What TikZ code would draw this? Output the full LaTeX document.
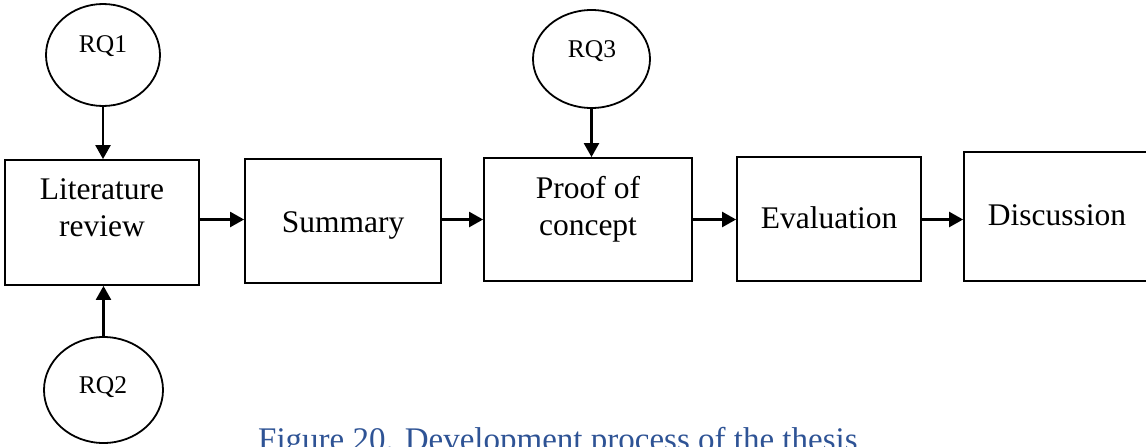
\documentclass[tikz,border=0pt]{standalone}
\usepackage{fontspec}
\setmainfont{Liberation Serif}
\usetikzlibrary{arrows.meta,shapes.geometric}
\definecolor{captionblue}{HTML}{2E5395}

\begin{document}
\begin{tikzpicture}[x=1pt,y=-1pt,
  stage/.style={draw, line width=1.8pt, rectangle, inner sep=0pt},
  rq/.style={draw, line width=1.8pt, ellipse, inner sep=0pt},
  flow/.style={line width=2.4pt, -{Triangle[length=14pt,width=15pt]}},
  big/.style={font=\fontsize{31.5}{37}\selectfont, inner sep=0pt, align=center},
  bigbase/.style={big, anchor=base},
  small/.style={font=\fontsize{25.5}{30}\selectfont, inner sep=0pt, anchor=base},
  caption/.style={font=\fontsize{33}{38}\selectfont, inner sep=0pt, anchor=base west, text=captionblue},
]
\useasboundingbox (0,0) rectangle (1146,447);

% process stages
\node[stage, minimum width=194pt, minimum height=125pt] (lit)  at (102,222.5) {};
\node[stage, minimum width=196pt, minimum height=124pt] (sum)  at (343,221)   {};
\node[stage, minimum width=208pt, minimum height=123pt] (poc)  at (588,219.5) {};
\node[stage, minimum width=184pt, minimum height=124pt] (eval) at (829,219)   {};
\node[stage, minimum width=185pt, minimum height=129pt] (disc) at (1056.5,216.5) {};

% research questions
\node[rq, minimum width=114pt, minimum height=102pt] (rq1) at (103,55)    {};
\node[rq, minimum width=119pt, minimum height=106pt] (rq2) at (103.5,390) {};
\node[rq, minimum width=117pt, minimum height=98pt]  (rq3) at (591.5,59)  {};

% labels
\node[big]      (litT)  at (102,208)  {Literature\\review};
\node[bigbase]  (sumT)  at (343,232)  {Summary};
\node[big]      (pocT)  at (588,209)  {Proof of\\concept};
\node[bigbase]  (evalT) at (829,228)  {Evaluation};
\node[bigbase]  (discT) at (1057,225) {Discussion};
\node[small]    (rq1T)  at (103,52)   {RQ1};
\node[small]    (rq2T)  at (103,393)  {RQ2};
\node[small]    (rq3T)  at (592,57)   {RQ3};

% connectors
\draw[flow] (rq1.south) -- (rq1.south |- lit.north);
\draw[flow] (rq2.north) -- (rq2.north |- lit.south);
\draw[flow] (rq3.south) -- (rq3.south |- poc.north);
\draw[flow] (lit.east |- poc.center)  -- (sum.west |- poc.center);
\draw[flow] (sum.east |- poc.center)  -- (poc.west);
\draw[flow] (poc.east)                -- (eval.west |- poc.center);
\draw[flow] (eval.east |- poc.center) -- (disc.west |- poc.center);

% caption
\node[caption] (cap) at (258,450) {Figure 20. Development process of the thesis};
\end{tikzpicture}
\end{document}
